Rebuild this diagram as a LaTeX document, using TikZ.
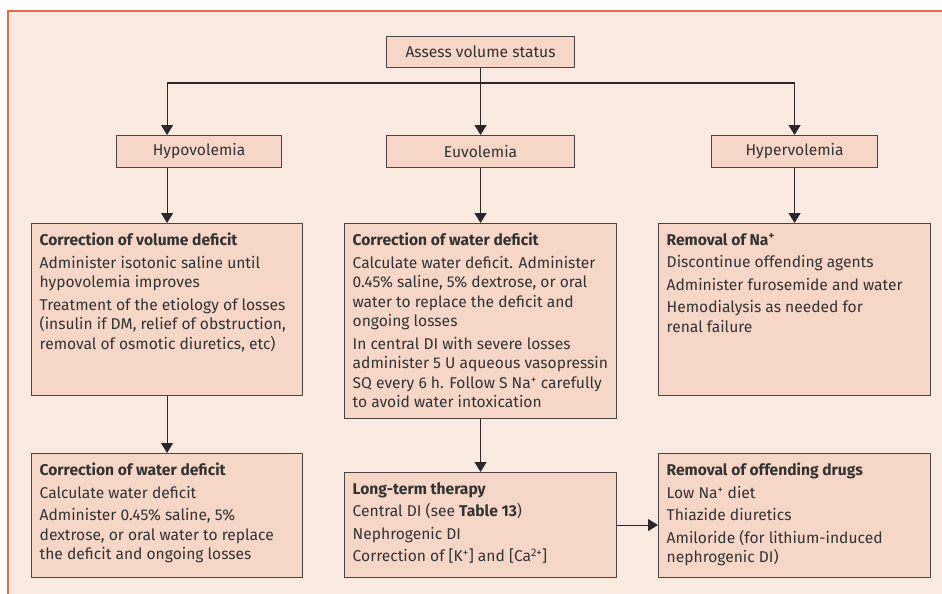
\documentclass[tikz,border=0pt]{standalone}
\usepackage{fontspec}
\setmainfont{Fira Sans}
\usetikzlibrary{arrows.meta}

\definecolor{pagebg}{HTML}{F9EAE1}
\definecolor{boxfill}{HTML}{F6D6C7}
\definecolor{framered}{HTML}{E2694A}
\definecolor{edge}{HTML}{4A4444}
\definecolor{ink}{HTML}{333333}
\definecolor{wire}{HTML}{2B2728}

\tikzset{
  box/.style={draw=edge, fill=boxfill, line width=1.1pt, inner sep=0pt,
    anchor=north west, text=ink, font=\fontsize{15.6}{18}\selectfont},
  body/.style={anchor=north west, inner sep=0pt, align=left, text=ink,
    font=\fontsize{15.6}{19.5}\selectfont},
  conn/.style={draw=wire, line width=1.1pt, -{Triangle[width=12pt,length=10pt]}}
}

\begin{document}
\begin{tikzpicture}[x=1pt,y=-1pt]
\useasboundingbox (0,0) rectangle (942,594);
% page background and frame
\fill[pagebg] (8,11) rectangle (942,594);
\draw[framered, line width=1.2pt] (8,594) -- (8,11) -- (942,11);

% top level
\node[box, minimum width=188pt, minimum height=31pt] (assess) at (386,36) {Assess volume status};

% volume status
\node[box, minimum width=165pt, minimum height=32pt] (hypo)  at (116,135) {Hypovolemia};
\node[box, minimum width=188pt, minimum height=32pt] (euvo)  at (386,135) {Euvolemia};
\node[box, minimum width=166pt, minimum height=32pt] (hyper) at (711,135) {Hypervolemia};

% second row
\node[box, minimum width=271pt, minimum height=172pt] (vold) at (31,223) {};
\node[body] (voldtext) at ([xshift=8.5pt,yshift=-10pt]vold.north west)
  {\textbf{Correction of volume deficit}\\[3pt]
   Administer isotonic saline until\\
   hypovolemia improves\\[3pt]
   Treatment of the etiology of losses\\
   (insulin if DM, relief of obstruction,\\
   removal of osmotic diuretics, etc)};

\node[box, minimum width=272pt, minimum height=195pt] (wdef) at (344,223) {};
\node[body] (wdeftext) at ([xshift=8.5pt,yshift=-10pt]wdef.north west)
  {\textbf{Correction of water deficit}\\[3pt]
   Calculate water deficit. Administer\\
   0.45\% saline, 5\% dextrose, or oral\\
   water to replace the deficit and\\
   ongoing losses\\[3pt]
   In central DI with severe losses\\
   administer 5 U aqueous vasopressin\\
   SQ every 6 h. Follow S Na\textsuperscript{+} carefully\\
   to avoid water intoxication};

\node[box, minimum width=272pt, minimum height=172pt] (narem) at (658,223) {};
\node[body] (naremtext) at ([xshift=8.5pt,yshift=-10pt]narem.north west)
  {\textbf{Removal of Na\textsuperscript{+}}\\[3pt]
   Discontinue offending agents\\[3pt]
   Administer furosemide and water\\[3pt]
   Hemodialysis as needed for\\
   renal failure};

% third row
\node[box, minimum width=271pt, minimum height=124pt] (wdeftwo) at (31,453) {};
\node[body] (wdeftwotext) at ([xshift=8.5pt,yshift=-10pt]wdeftwo.north west)
  {\textbf{Correction of water deficit}\\[3pt]
   Calculate water deficit\\[3pt]
   Administer 0.45\% saline, 5\%\\
   dextrose, or oral water to replace\\
   the deficit and ongoing losses};

\node[box, minimum width=272pt, minimum height=105pt] (ltt) at (344,472) {};
\node[body] (ltttext) at ([xshift=8.5pt,yshift=-10pt]ltt.north west)
  {\textbf{Long-term therapy}\\[3pt]
   Central DI (see \textbf{Table 13})\\[3pt]
   Nephrogenic DI\\[3pt]
   Correction of [K\textsuperscript{+}] and [Ca\textsuperscript{2+}]};

\node[box, minimum width=272pt, minimum height=124pt] (drugs) at (658,453) {};
\node[body] (drugstext) at ([xshift=8.5pt,yshift=-10pt]drugs.north west)
  {\textbf{Removal of offending drugs}\\[3pt]
   Low Na\textsuperscript{+} diet\\[3pt]
   Thiazide diuretics\\[3pt]
   Amiloride (for lithium-induced\\
   nephrogenic DI)};

% connectors (the left column runs down the centre line of the lower boxes)
\coordinate (hub) at (480,83);
\draw[conn] (assess.south) -- (euvo.north);
\draw[conn] (hub) -| (vold.north |- hypo.north);
\draw[conn] (hub) -| (hyper.north);
\draw[conn] (vold.north |- hypo.south) -- (vold.north);
\draw[conn] (euvo.south) -- (wdef.north);
\draw[conn] (hyper.south) -- (narem.north);
\draw[conn] (vold.south) -- (wdeftwo.north);
\draw[conn] (wdef.south) -- (ltt.north);
\draw[conn] (ltt.east) -- (ltt.east -| drugs.west);
\end{tikzpicture}
\end{document}
